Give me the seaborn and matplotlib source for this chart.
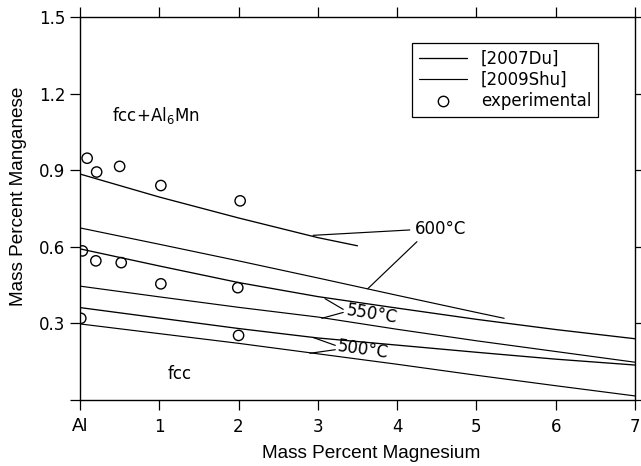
import numpy as np
import pandas as pd
import seaborn as sns
import matplotlib.pyplot as plt
from matplotlib.lines import Line2D

# isotherm lines (mass % Mg, mass % Mn)
du600_x = [0, 1, 2, 3, 3.5]
du600_y = [0.885, 0.795, 0.713, 0.636, 0.604]
shu600_x = [0, 1, 2, 3, 4, 5, 5.35]
shu600_y = [0.674, 0.61, 0.545, 0.478, 0.41, 0.343, 0.32]
du550_x = [0, 1, 2, 3, 4, 5, 6, 7]
du550_y = [0.592, 0.525, 0.46, 0.405, 0.36, 0.316, 0.276, 0.24]
shu550_x = [0, 1, 2, 3, 4, 5, 6, 7]
shu550_y = [0.446, 0.404, 0.363, 0.325, 0.277, 0.232, 0.19, 0.148]
du500_x = [0, 1, 2, 3, 4, 5, 6, 7]
du500_y = [0.362, 0.321, 0.28, 0.243, 0.215, 0.187, 0.16, 0.137]
shu500_x = [0, 1, 2, 3, 4, 5, 6, 7]
shu500_y = [0.298, 0.26, 0.222, 0.181, 0.14, 0.097, 0.056, 0.016]

# experimental points
exp_x = [0.09, 0.21, 0.5, 1.02, 2.02, 0.03, 0.2, 0.52, 1.02, 1.99, 0.01, 2.0]
exp_y = [0.947, 0.893, 0.915, 0.84, 0.78, 0.584, 0.545, 0.538, 0.455, 0.44, 0.32, 0.253]

xtick_vals = [0, 1, 2, 3, 4, 5, 6, 7]
xtick_labels = ["Al", "1", "2", "3", "4", "5", "6", "7"]
ytick_vals = [0, 0.3, 0.6, 0.9, 1.2, 1.5]
ytick_labels = ["", "0.3", "0.6", "0.9", "1.2", "1.5"]

sns.set_style("ticks")
plt.rcParams["font.family"] = ["Liberation Sans", "DejaVu Sans"]
plt.rcParams["text.color"] = "black"
plt.rcParams["axes.labelcolor"] = "black"
plt.rcParams["xtick.color"] = "black"
plt.rcParams["ytick.color"] = "black"

fig = plt.figure(figsize=(6.41, 4.66), dpi=100)
ax = fig.add_axes([0.1248, 0.1416, 0.8658, 0.8219])

du = [(du600_x, du600_y), (du550_x, du550_y), (du500_x, du500_y)]
shu = [(shu600_x, shu600_y), (shu550_x, shu550_y), (shu500_x, shu500_y)]
for xs, ys in du:
    sns.lineplot(x=xs, y=ys, ax=ax, color="black", lw=0.95, sort=False, estimator=None)
for xs, ys in shu:
    sns.lineplot(x=xs, y=ys, ax=ax, color="black", lw=0.85, sort=False, estimator=None)

sns.scatterplot(x=exp_x, y=exp_y, ax=ax, s=55, marker="o",
                facecolor="none", edgecolor="black", linewidth=1.0, zorder=5)

# temperature labels with leader lines
lw_lead = 0.85
ax.plot([2.94, 4.16], [0.645, 0.666], color="black", lw=lw_lead)
ax.plot([3.63, 4.25], [0.436, 0.62], color="black", lw=lw_lead)
ax.text(4.22, 0.67, "600°C", fontsize=12, family="DejaVu Sans", va="center", ha="left")

ax.plot([3.09, 3.32], [0.397, 0.355], color="black", lw=lw_lead)
ax.plot([3.05, 3.32], [0.32, 0.343], color="black", lw=lw_lead)
ax.text(3.36, 0.352, "550°C", fontsize=12, family="DejaVu Sans", rotation=-9,
        rotation_mode="anchor", va="center", ha="left")

ax.plot([2.94, 3.22], [0.245, 0.214], color="black", lw=lw_lead)
ax.plot([2.9, 3.22], [0.183, 0.197], color="black", lw=lw_lead)
ax.text(3.25, 0.21, "500°C", fontsize=12, family="DejaVu Sans", rotation=-8,
        rotation_mode="anchor", va="center", ha="left")

ax.text(0.4, 1.115, "fcc+Al$_6$Mn", fontsize=12, family="DejaVu Sans", va="center")
ax.text(1.11, 0.10, "fcc", fontsize=12, family="DejaVu Sans", va="center")

ax.set_xlim(0, 7)
ax.set_ylim(0, 1.5)
ax.set_xticks(xtick_vals)
ax.set_xticklabels(xtick_labels)
ax.set_yticks(ytick_vals)
ax.set_yticklabels(ytick_labels)
for lab in ax.get_xticklabels() + ax.get_yticklabels():
    lab.set_family("DejaVu Sans")
    lab.set_fontsize(12)
ax.get_xticklabels()[0].set_family("Liberation Sans")
ax.get_xticklabels()[0].set_fontsize(13)
ax.tick_params(direction="out", length=7, width=0.9, color="black",
               top=True, right=True, labeltop=False, labelright=False)
ax.tick_params(axis="x", pad=6)
for sp in ax.spines.values():
    sp.set_visible(True)
    sp.set_color("black")
    sp.set_linewidth(1.0)

ax.set_xlabel("Mass Percent Magnesium", fontsize=13.7)
ax.set_ylabel("Mass Percent Manganese", fontsize=13.7)
ax.xaxis.set_label_coords(0.524, -0.118)
ax.yaxis.set_label_coords(-0.096, 0.533)

handles = [
    Line2D([], [], color="black", lw=0.95, label="[2007Du]"),
    Line2D([], [], color="black", lw=0.85, label="[2009Shu]"),
    Line2D([], [], color="black", lw=0, marker="o", markersize=7.5,
           markerfacecolor="none", markeredgewidth=1.0, label="experimental"),
]
leg = ax.legend(handles=handles, loc="upper right", bbox_to_anchor=(0.933, 0.932),
                frameon=True, fancybox=False, edgecolor="black", framealpha=1,
                borderaxespad=0, handlelength=2.9, labelspacing=0.2,
                prop={"family": "DejaVu Sans", "size": 12})
leg.get_frame().set_linewidth(0.9)

fig.savefig("out.png", dpi=100)
